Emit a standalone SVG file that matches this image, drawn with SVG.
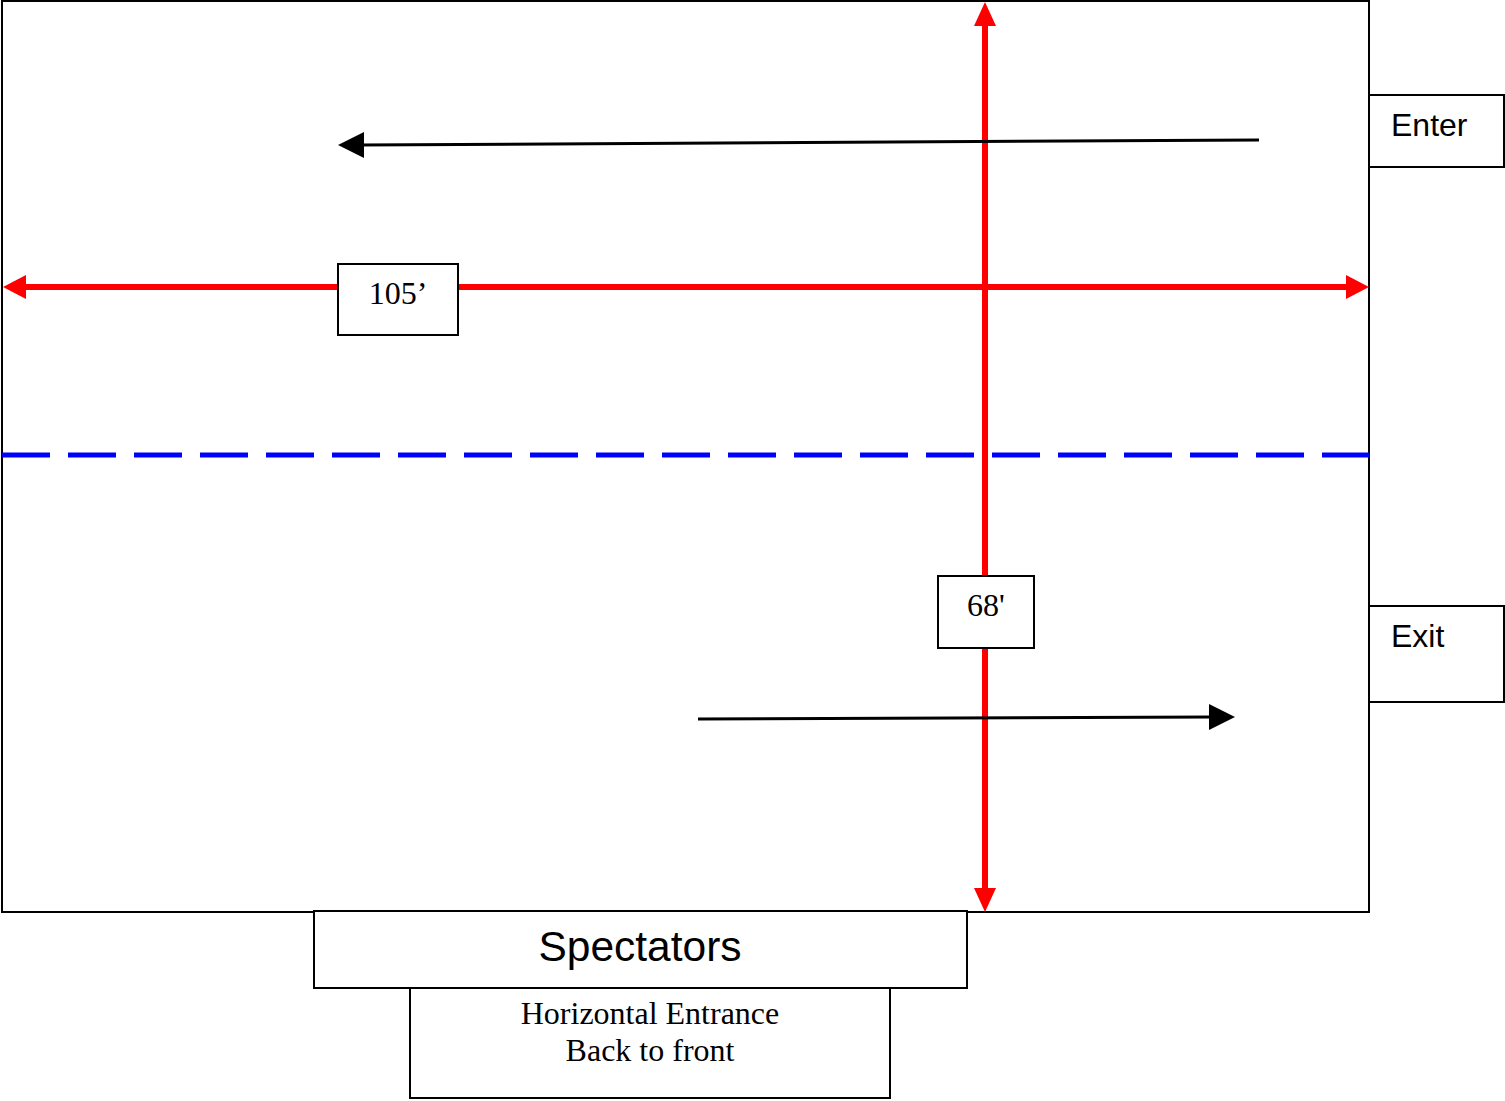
<svg xmlns="http://www.w3.org/2000/svg" width="1505" height="1101" viewBox="0 0 1505 1101">
<style>
.box{fill:#fff;stroke:#000;stroke-width:2}
.serif{font-family:"Liberation Serif",serif;font-size:32px;fill:#000}
.sans{font-family:"Liberation Sans",sans-serif;fill:#000}
.red{stroke:#ff0000;stroke-width:6;fill:none}
.blk{stroke:#000;stroke-width:3;fill:none}
</style>
<rect width="1505" height="1101" fill="#fff"/>
<g id="field"><rect x="2" y="1" width="1367" height="911" fill="#fff" stroke="#000" stroke-width="2"/></g>
<g id="connectors">
<line x1="2" y1="455" x2="1369" y2="455" stroke="#0000ff" stroke-width="5" stroke-dasharray="48 18"/>
<line class="red" x1="22" y1="287" x2="1350" y2="287"/>
<polygon points="3,287 26,275 26,299" fill="#ff0000"/>
<polygon points="1369,287 1346,275 1346,299" fill="#ff0000"/>
<line class="red" x1="985" y1="22" x2="985" y2="892"/>
<polygon points="985,2 974,26 996,26" fill="#ff0000"/>
<polygon points="985,912 974,888 996,888" fill="#ff0000"/>
<line class="blk" x1="1259" y1="140" x2="360" y2="145"/>
<polygon points="338,145 364,132 364,158" fill="#000"/>
<line class="blk" x1="698" y1="719" x2="1212" y2="717"/>
<polygon points="1235,717 1209,704 1209,730" fill="#000"/>
</g>
<g id="enter"><rect class="box" x="1369" y="95" width="135" height="72"/><text class="sans" x="1391" y="136" font-size="32">Enter</text></g>
<g id="exit"><rect class="box" x="1369" y="606" width="135" height="96"/><text class="sans" x="1391" y="647" font-size="32">Exit</text></g>
<g id="label105"><rect class="box" x="338" y="264" width="120" height="71"/><text class="serif" x="398" y="304" text-anchor="middle">105’</text></g>
<g id="label68"><rect class="box" x="938" y="576" width="96" height="72"/><text class="serif" x="986" y="616" text-anchor="middle">68'</text></g>
<g id="entrance"><rect class="box" x="410" y="988" width="480" height="110"/><text class="serif" x="650" y="1024" text-anchor="middle">Horizontal Entrance</text><text class="serif" x="650" y="1061" text-anchor="middle">Back to front</text></g>
<g id="spectators"><rect class="box" x="314" y="911" width="653" height="77"/><text class="sans" x="640" y="961" font-size="42.5" text-anchor="middle">Spectators</text></g>
</svg>
